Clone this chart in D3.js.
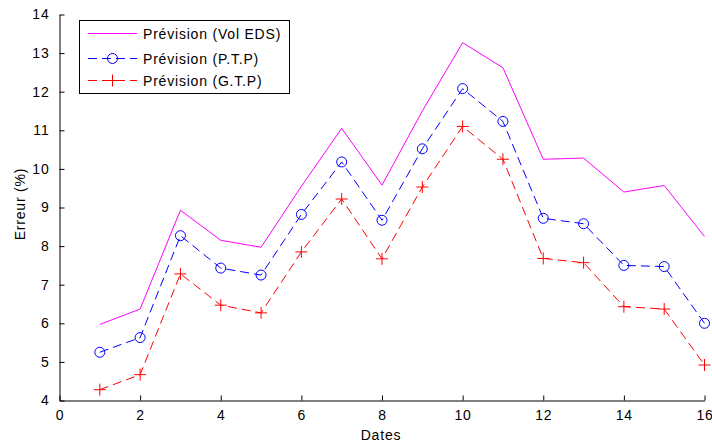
<!DOCTYPE html>
<html><head><meta charset="utf-8">
<script src="https://cdn.jsdelivr.net/npm/d3@7"></script>
<style>body{margin:0;background:#fff}svg{display:block}text{font-family:"Liberation Sans",Arial,sans-serif;letter-spacing:0.8px}</style>
</head><body><svg id="c" width="712" height="446"></svg>
<script>
const dates = [1,2,3,4,5,6,7,8,9,10,11,12,13,14,15,16];
const volEDS = [5.97,6.37,8.93,8.15,7.97,9.55,11.05,9.58,11.5,13.27,12.62,10.25,10.28,9.4,9.57,8.25];
const ptp    = [5.25,5.63,8.27,7.43,7.25,8.82,10.18,8.67,10.52,12.08,11.23,8.72,8.58,7.5,7.47,6.0];
const gtp    = [4.28,4.67,7.28,6.47,6.27,7.85,9.22,7.67,9.53,11.1,10.25,7.68,7.57,6.43,6.37,4.92];
const xTicks = [0,2,4,6,8,10,12,14,16];
const yTicks = [4,5,6,7,8,9,10,11,12,13,14];
const labels = ["Prévision (Vol EDS)","Prévision (P.T.P)","Prévision (G.T.P)"];

const svg = d3.select("#c");
const x = d3.scaleLinear().domain([0,16]).range([59.5,704.5]);
const y = d3.scaleLinear().domain([4,14]).range([400.5,14.5]);

const gx = svg.append("g").attr("transform","translate(0,400.5)")
  .call(d3.axisBottom(x).tickValues(xTicks).tickSizeInner(-5).tickSizeOuter(0).tickPadding(10));
const gy = svg.append("g").attr("transform","translate(59.5,0)")
  .call(d3.axisLeft(y).tickValues(yTicks).tickSizeInner(-5).tickSizeOuter(0).tickPadding(10));
[gx,gy].forEach(g=>{
  g.selectAll("text").attr("font-size",14).attr("fill","#000").attr("font-family","Liberation Sans, Arial, sans-serif");
  g.selectAll("line,path").attr("stroke","#000");
});

svg.append("text").attr("x",381).attr("y",440).attr("text-anchor","middle").attr("font-size",14).text("Dates");
svg.append("text").attr("transform","translate(25,204) rotate(-90)").attr("text-anchor","middle").attr("font-size",14).text("Erreur (%)");

const line = d3.line().x((d,i)=>x(dates[i])).y(d=>y(d));
svg.append("path").datum(volEDS).attr("d",line).attr("fill","none").attr("stroke","#ff00ff").attr("stroke-width",1);
svg.append("path").datum(ptp).attr("d",line).attr("fill","none").attr("stroke","#0000ff").attr("stroke-width",1).attr("stroke-dasharray","9,5");
svg.append("path").datum(gtp).attr("d",line).attr("fill","none").attr("stroke","#ff0000").attr("stroke-width",1).attr("stroke-dasharray","9,5");

svg.append("g").selectAll("circle").data(ptp).join("circle")
  .attr("cx",(d,i)=>x(dates[i])).attr("cy",d=>y(d)).attr("r",5).attr("fill","none").attr("stroke","#0000ff").attr("stroke-width",1);
const plus = (g,cx,cy,s,col)=>{
  g.append("line").attr("x1",cx-s).attr("x2",cx+s).attr("y1",cy).attr("y2",cy).attr("stroke",col);
  g.append("line").attr("x1",cx).attr("x2",cx).attr("y1",cy-s).attr("y2",cy+s).attr("stroke",col);
};
const gp = svg.append("g");
gtp.forEach((d,i)=>plus(gp,x(dates[i]),y(d),6,"#ff0000"));

// legend
const lg = svg.append("g");
lg.append("rect").attr("x",79.5).attr("y",20.5).attr("width",210).attr("height",73).attr("fill","#fff").attr("stroke","#000");
const ly = [33.5,58.5,80.5];
const cols = ["#ff00ff","#0000ff","#ff0000"];
ly.forEach((yy,i)=>{
  lg.append("line").attr("x1",88).attr("x2",137).attr("y1",yy).attr("y2",yy).attr("stroke",cols[i])
    .attr("stroke-dasharray", i===0?null:"9,5");
  lg.append("text").attr("x",143).attr("y",yy+5).attr("font-size",14).text(labels[i]);
});
lg.append("circle").attr("cx",112.5).attr("cy",ly[1]).attr("r",5).attr("fill","none").attr("stroke","#0000ff");
plus(lg,112.5,ly[2],6,"#ff0000");
</script></body></html>
